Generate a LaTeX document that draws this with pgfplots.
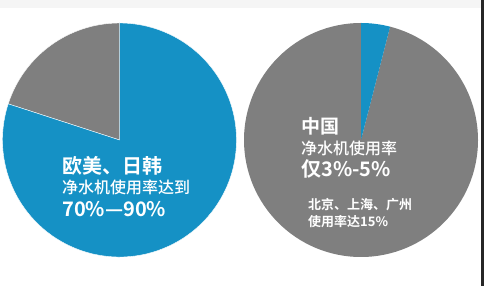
\documentclass[border=0pt]{standalone}
\usepackage{pgfplots}
\pgfplotsset{compat=1.18}
\usepackage{pgfplotstable}
\usepackage{fontspec}
\newfontfamily\cjk{Noto Sans CJK SC}[BoldFont={Noto Sans CJK SC Bold}]
\newfontfamily\cjkmed{Noto Sans CJK SC Medium}
\definecolor{pieblue}{HTML}{1591C5}
\definecolor{piegray}{HTML}{7F7F7F}

% share of households using water purifiers (percent)
\pgfplotstableread{
part value
other 20
users 80
}\westdata
\pgfplotstableread{
part value
users 4
other 96
}\chinadata

\pgfplotstablegetelem{0}{value}\of\westdata \edef\wOther{\pgfplotsretval}
\pgfplotstablegetelem{1}{value}\of\westdata \edef\wUsers{\pgfplotsretval}
\pgfplotstablegetelem{0}{value}\of\chinadata \edef\cUsers{\pgfplotsretval}
\pgfplotstablegetelem{1}{value}\of\chinadata \edef\cOther{\pgfplotsretval}

\pgfmathsetmacro{\wA}{90+3.6*\wOther}   % end of gray slice (ccw from top)
\pgfmathsetmacro{\cA}{90-3.6*\cUsers}   % start of blue slice (cw from top)

\begin{document}
\begin{tikzpicture}
\begin{axis}[
  x=1pt, y=1pt,
  xmin=0, xmax=484, ymin=0, ymax=286,
  hide axis, clip=false,
  scale only axis,
]
% background
\fill[white] (axis cs:0,0) rectangle (axis cs:484,286);
\fill[black!4] (axis cs:0,278) rectangle (axis cs:484,286);
\fill[black!85] (axis cs:481,0) rectangle (axis cs:484,286);
\coordinate (BL) at (axis cs:0,0);
\coordinate (TR) at (axis cs:484,286);

% left pie: Europe/US, Japan/Korea
\fill[piegray, draw=white, line width=0.4pt] (axis cs:119.5,146) -- ++(90:117pt)
  arc[start angle=90, end angle=\wA, radius=117pt] -- cycle;
\fill[pieblue, draw=white, line width=0.4pt] (axis cs:119.5,146) -- ++(\wA:117pt)
  arc[start angle=\wA, end angle=450, radius=117pt] -- cycle;

% right pie: China
\fill[piegray] (axis cs:361,146) -- ++(90:117pt)
  arc[start angle=90, end angle={360+\cA}, radius=117pt] -- cycle;
\fill[pieblue] (axis cs:361,146) -- ++(\cA:117pt)
  arc[start angle=\cA, end angle=90, radius=117pt] -- cycle;

% labels
\node[anchor=base west, inner sep=0pt, text=white, font=\cjk\bfseries\fontsize{20}{22}\selectfont] at (axis cs:62,112.5) {欧美、日韩};
\node[anchor=base west, inner sep=0pt, text=white, font=\cjkmed\fontsize{16}{18}\selectfont] at (axis cs:62,92) {净水机使用率达到};
\node[anchor=base west, inner sep=0pt, text=white, font=\cjk\bfseries\fontsize{20}{22}\selectfont] at (axis cs:62,69) {70\%—90\%};

\node[anchor=base west, inner sep=0pt, text=white, font=\cjk\bfseries\fontsize{19}{21}\selectfont] at (axis cs:301,152.3) {中国};
\node[anchor=base west, inner sep=0pt, text=white, font=\cjkmed\fontsize{16}{18}\selectfont] at (axis cs:301,131.5) {净水机使用率};
\node[anchor=base west, inner sep=0pt, text=white, font=\cjk\bfseries\fontsize{20}{22}\selectfont] at (axis cs:301,109) {仅3\%-5\%};
\node[anchor=base west, inner sep=0pt, text=white, font=\cjk\bfseries\fontsize{13}{15}\selectfont] at (axis cs:308,76.6) {北京、上海、广州};
\node[anchor=base west, inner sep=0pt, text=white, font=\cjk\bfseries\fontsize{13}{15}\selectfont] at (axis cs:308,59.5) {使用率达15\%};
\end{axis}
\pgfresetboundingbox
\useasboundingbox (BL) rectangle (TR);
\end{tikzpicture}
\end{document}
